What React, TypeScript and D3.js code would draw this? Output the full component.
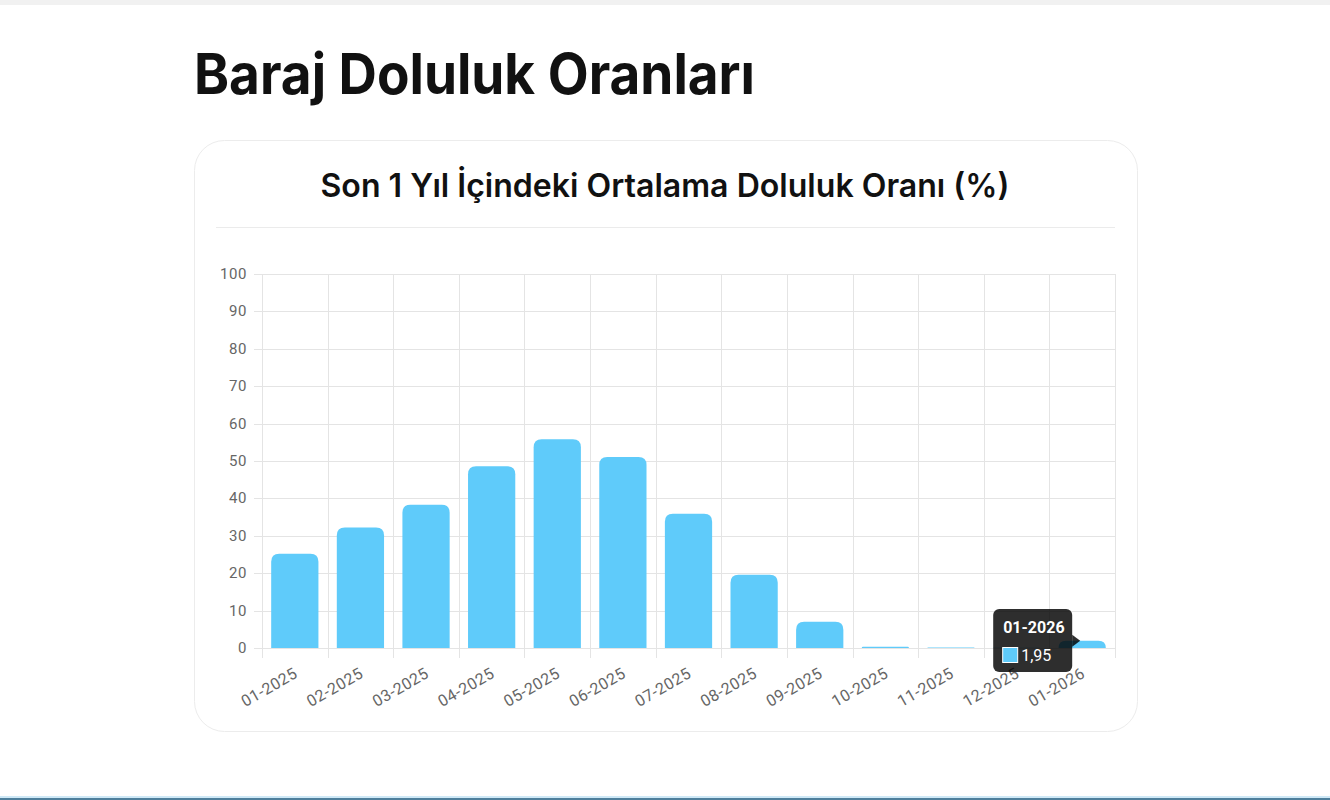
import React from "react";
import * as d3 from "d3";

const categories = ["01-2025","02-2025","03-2025","04-2025","05-2025","06-2025","07-2025","08-2025","09-2025","10-2025","11-2025","12-2025","01-2026"];
const values = [25.2, 32.2, 38.3, 48.6, 55.8, 51.1, 35.9, 19.6, 7.0, 0.35, 0.12, 0.08, 1.95];
const yTicks = [0,10,20,30,40,50,60,70,80,90,100];
const pageTitle = "Baraj Doluluk Oranları";
const chartTitle = "Son 1 Yıl İçindeki Ortalama Doluluk Oranı (%)";
const tooltipIndex = 12;

const W = 1330, H = 800;
const plot = { left: 262, right: 1115, top: 274, bottom: 648 };

function roundedTopBar(x: number, y: number, w: number, h: number, r: number) {
  const rr = Math.max(0, Math.min(r, w / 2, h));
  return `M${x},${y + h}V${y + rr}Q${x},${y} ${x + rr},${y}H${x + w - rr}Q${x + w},${y} ${x + w},${y + rr}V${y + h}Z`;
}

export default function App() {
  const x = d3.scaleBand<string>().domain(categories).range([plot.left, plot.right]).paddingInner(0).paddingOuter(0);
  const y = d3.scaleLinear().domain([0, 100]).range([plot.bottom, plot.top]);
  const bw = x.bandwidth();
  const barW = bw * 0.72;
  const font = "Roboto, 'Noto Sans', sans-serif";
  const boundaries = categories.map((c) => x(c)!).concat([plot.right]);

  const ti = tooltipIndex;
  const tcx = x(categories[ti])! + bw / 2;
  const tyVal = y(values[ti]);
  const boxW = 79, boxH = 63;
  const boxX = tcx - 10 - boxW;
  const boxY = 609;

  return (
    <svg width={W} height={H} style={{ position: "fixed", left: 0, top: 0, background: "#fff" }}>
      <rect x={0} y={0} width={W} height={5} fill="#f1f1f1" />
      <rect x={0} y={796} width={W} height={2} fill="#cfe9f7" />
      <rect x={0} y={798} width={W} height={2} fill="#4f7f9c" />
      <text x={194} y={94} fontFamily="Inter, 'Noto Sans', sans-serif" fontWeight={700} fontSize={56} fill="#111" textLength={561} lengthAdjust="spacingAndGlyphs">{pageTitle}</text>
      <rect x={194.5} y={140.5} width={943} height={591} rx={30} ry={30} fill="#fff" stroke="#ececec" />
      <text x={665} y={197} textAnchor="middle" fontFamily="Inter, 'Noto Sans', sans-serif" fontWeight={600} fontSize={32} fill="#111" textLength={689} lengthAdjust="spacingAndGlyphs">{chartTitle}</text>
      <line x1={216} x2={1115} y1={227.5} y2={227.5} stroke="#ebebeb" />

      {yTicks.map((t) => (
        <g key={t}>
          <line x1={254} x2={plot.right} y1={Math.round(y(t)) + 0.5} y2={Math.round(y(t)) + 0.5} stroke="#e4e4e4" />
          <text x={247} y={y(t) + 5} textAnchor="end" fontFamily={font} fontSize={15} letterSpacing={0.6} fill="#666">{t}</text>
        </g>
      ))}
      {boundaries.map((b, i) => (
        <line key={i} x1={Math.round(b) + 0.5} x2={Math.round(b) + 0.5} y1={plot.top} y2={658} stroke="#e4e4e4" />
      ))}

      {values.map((v, i) => {
        const bx = x(categories[i])! + (bw - barW) / 2;
        const by = y(v);
        const h = plot.bottom - by;
        return <path key={i} d={roundedTopBar(bx, by, barW, h, 8)} fill="#5fcbfa" />;
      })}

      {categories.map((c) => {
        const cx = x(c)! + bw / 2;
        return (
          <text key={c} transform={`translate(${cx - 2},${666}) rotate(-30)`} textAnchor="end" dominantBaseline="hanging" fontFamily={font} fontSize={16} letterSpacing={0.5} fill="#666">{c}</text>
        );
      })}

      <g>
        <rect x={boxX} y={boxY} width={boxW} height={boxH} rx={6} fill="rgba(0,0,0,0.82)" />
        <path d={`M${boxX + boxW},${tyVal - 6} L${boxX + boxW + 8},${tyVal} L${boxX + boxW},${tyVal + 6}Z`} fill="rgba(0,0,0,0.82)" />
        <text x={boxX + 10} y={boxY + 24} fontFamily={font} fontWeight={700} fontSize={16} fill="#fff">{categories[ti]}</text>
        <rect x={boxX + 9.5} y={boxY + 38.5} width={15} height={15} fill="#5fcbfa" stroke="#fff" />
        <text x={boxX + 28} y={boxY + 52} fontFamily={font} fontSize={16} fill="#fff">{values[ti].toFixed(2).replace(".", ",")}</text>
      </g>
    </svg>
  );
}
